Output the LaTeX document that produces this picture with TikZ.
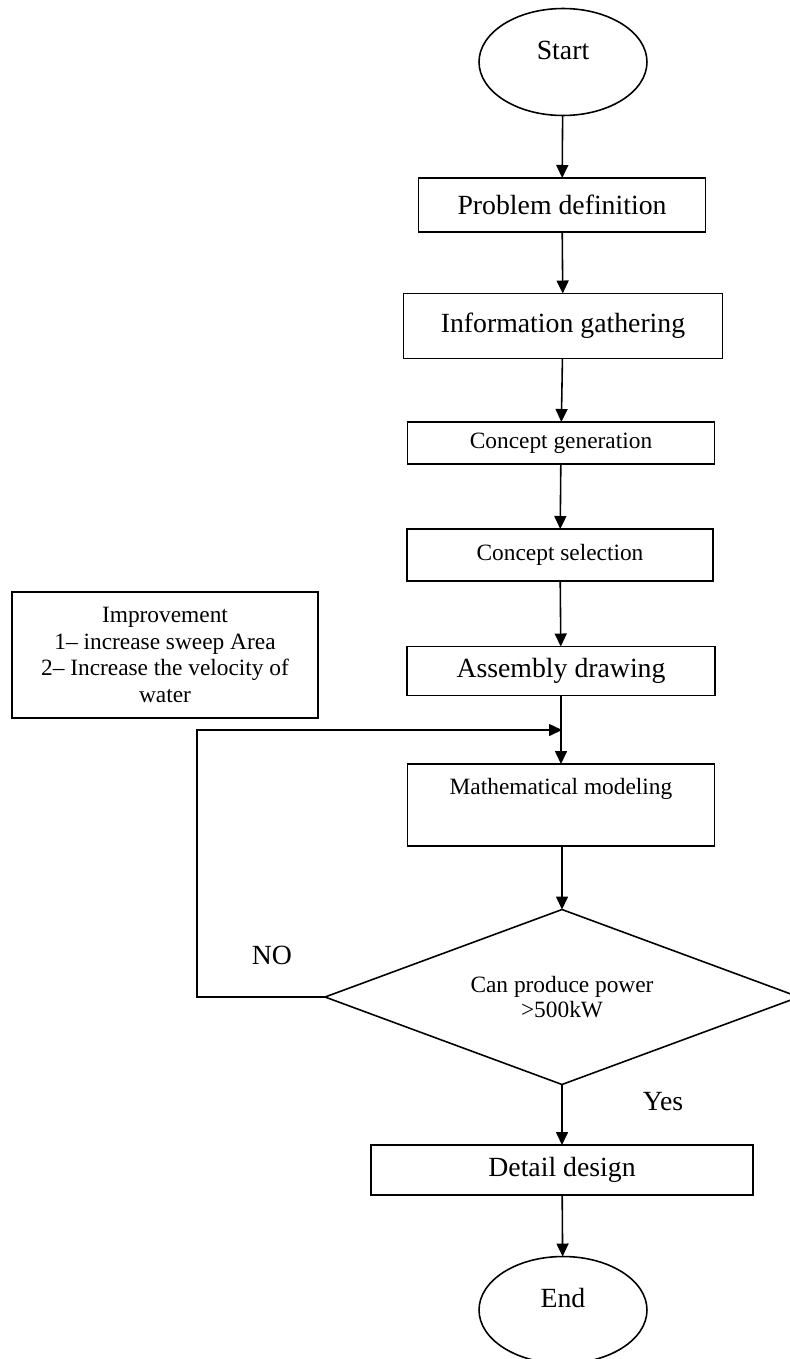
\documentclass[tikz,border=0pt]{standalone}
\usepackage{fontspec}
\setmainfont{Liberation Serif}
\usetikzlibrary{arrows.meta, positioning, shapes.geometric}

\tikzset{
  bigtext/.style={font=\fontsize{15.8}{18}\selectfont},
  smalltext/.style={font=\fontsize{13.3}{15.3}\selectfont},
  stepbox/.style={draw, rectangle, line width=0.9pt, inner sep=0pt, outer sep=0pt},
  terminal/.style={draw, ellipse, line width=0.9pt, inner sep=0pt, outer sep=0pt,
    minimum width=3.36cm, minimum height=2.14cm, text depth=13.6pt, bigtext},
  decision/.style={draw, diamond, aspect=2.7, line width=0.9pt, inner sep=0pt, outer sep=0pt,
    minimum width=9.48cm, minimum height=3.5cm, align=center, smalltext},
  flow/.style={->, line width=0.9pt},
}

\begin{document}
\begin{tikzpicture}[
  x=0.02cm, y=-0.02cm,
  >={Triangle[length=2.6mm, width=2.4mm]},
]

% Frame
\useasboundingbox (0,0) rectangle (789,1359);

% Start
\node[terminal] (start) at (563,62) {Start};

% Main steps
\node[stepbox, bigtext, minimum width=5.74cm, minimum height=1.08cm] (prob) at (562,205) {Problem definition};
\node[stepbox, bigtext, minimum width=6.38cm, minimum height=1.30cm] (info) at (563,326) {Information gathering};
\node[stepbox, smalltext, minimum width=6.14cm, minimum height=0.84cm] (cgen) at (561,443) {Concept generation};
\node[stepbox, smalltext, minimum width=6.12cm, minimum height=1.04cm] (csel) at (560,555) {Concept selection};
\node[stepbox, bigtext, minimum width=6.16cm, minimum height=0.98cm] (asm) at (561,671) {Assembly drawing};
\node[stepbox, smalltext, minimum width=6.14cm, minimum height=1.64cm, text depth=21pt] (math) at (561,805) {Mathematical modeling};

% Check
\node[decision] (check) at (562,997) {Can produce power\\[-1pt]>500kW};

% Final steps
\node[stepbox, bigtext, minimum width=7.64cm, minimum height=1.00cm] (detail) at (562,1170) {Detail design};
\node[terminal] (end) at (563,1310) {End};

% Improvement note
\node[stepbox, smalltext, align=center, minimum width=6.12cm, minimum height=2.52cm] (improve) at (165,655)
  {Improvement\\1-- increase sweep Area\\2-- Increase the velocity of\\water};

% Labels
\node[bigtext] (no) at (272,955) {NO};
\node[bigtext] (yes) at (663,1102) {Yes};

% Connectors
\coordinate (loop) at (562,730);
\draw[flow] (start) -- (prob);
\draw[flow] (prob) -- (info);
\draw[flow] (info) -- (cgen);
\draw[flow] (cgen) -- (csel);
\draw[flow] (csel) -- (asm);
\draw[flow] (asm.south -| math.north) -- (math);
\draw[flow] (math.south -| check.north) -- (check);
\draw[flow] (check) -- (detail);
\draw[flow] (detail) -- (end);

% Loop back
\draw[flow] (check.west) -- ++(-128,0) |- (loop);

\end{tikzpicture}
\end{document}
